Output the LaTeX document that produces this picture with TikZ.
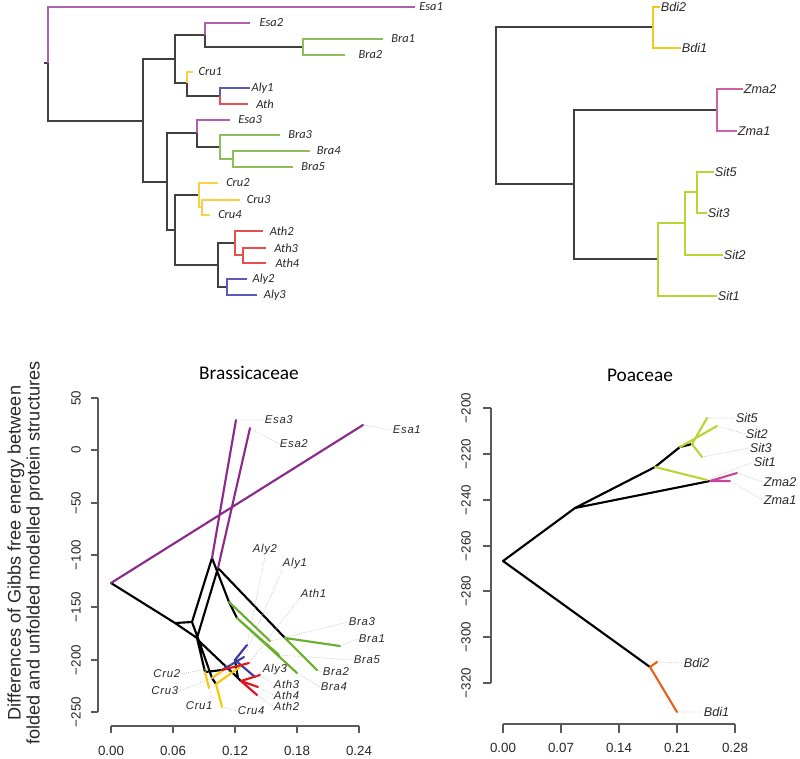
\documentclass[tikz,border=0pt]{standalone}
\usepackage{fontspec}
\setmainfont{Liberation Sans}
\newfontfamily\calfont{Carlito}
\newfontfamily\tipfont[LetterSpace=6]{Liberation Sans}
\usepackage{tikz}
\usetikzlibrary{calc}
\definecolor{ramagris}{RGB}{64,64,64}
\definecolor{moradoclaro}{RGB}{176,96,176}
\definecolor{verdeclaro}{RGB}{140,190,90}
\definecolor{amarilloclaro}{RGB}{245,210,70}
\definecolor{azulclaro}{RGB}{90,90,185}
\definecolor{rojoclaro}{RGB}{228,80,80}
\definecolor{oro}{RGB}{245,200,30}
\definecolor{rosa}{RGB}{208,96,160}
\definecolor{lima}{RGB}{185,212,52}
\definecolor{morado}{RGB}{139,42,139}
\definecolor{verde}{RGB}{106,175,42}
\definecolor{amarillo}{RGB}{250,200,0}
\definecolor{azul}{RGB}{60,60,168}
\definecolor{rojo}{RGB}{228,20,30}
\definecolor{naranja}{RGB}{232,96,28}
\definecolor{rosafuerte}{RGB}{200,68,156}
\definecolor{ejes}{RGB}{90,90,90}
\definecolor{texto}{RGB}{40,40,40}

\begin{document}
\begin{tikzpicture}[x=0.75pt, y=-0.75pt,
  rama/.style={draw=#1, line width=0.8pt},
  ramab/.style={draw=#1, line width=1.1pt},
  fen/.style={draw=#1, line width=1.6pt, line cap=round},
  guia/.style={draw=gray!55, densely dotted, line width=0.5pt},
  hoja/.style={font=\calfont\itshape\fontsize{9.3}{10}\selectfont, text=texto,
               anchor=west, inner sep=1pt},
  hojab/.style={font=\itshape\fontsize{9.5}{11}\selectfont, text=texto,
                anchor=west, inner sep=0.5pt},
  punta/.style={font=\tipfont\itshape\fontsize{8.5}{10}\selectfont, text=texto,
                anchor=west, inner sep=0.5pt},
  eje/.style={draw=ejes, line width=0.9pt},
  marca/.style={font=\fontsize{10}{12}\selectfont, text=texto},
  titulo/.style={font=\calfont\fontsize{14.5}{17}\selectfont, text=black},
  ejetit/.style={font=\fontsize{13.6}{15}\selectfont, text=texto, rotate=90}]
  \useasboundingbox (0,0) rectangle (800,758);

  % --- cladograma Brassicaceae ---
  \coordinate (r0) at (44,63);   \coordinate (r1) at (48,63);
  \coordinate (a1) at (143,121); \coordinate (a2) at (175,59);
  \coordinate (a3) at (205,35);  \coordinate (b12) at (303,47);
  \coordinate (a4) at (187,83);  \coordinate (a5) at (220,96);
  \coordinate (a6) at (167,182); \coordinate (a7) at (197,133);
  \coordinate (a8) at (220,147); \coordinate (a9) at (233,159);
  \coordinate (a10) at (175,230); \coordinate (a11) at (199,195);
  \coordinate (a12) at (202,207); \coordinate (a13) at (218,265);
  \coordinate (a14) at (235,243); \coordinate (a15) at (243,255);
  \coordinate (a16) at (227,287);
  \coordinate (tEsa1) at (415,7);  \coordinate (tEsa2) at (250,23);
  \coordinate (tBra1) at (383,39); \coordinate (tBra2) at (345,55);
  \coordinate (tCru1) at (193,72); \coordinate (tAly1) at (250,88);
  \coordinate (tAth) at (248,104); \coordinate (tEsa3) at (230,120);
  \coordinate (tBra3) at (280,135); \coordinate (tBra4) at (310,151);
  \coordinate (tBra5) at (293,167); \coordinate (tCru2) at (218,183);
  \coordinate (tCru3) at (240,200); \coordinate (tCru4) at (210,215);
  \coordinate (tAth2) at (263,231); \coordinate (tAth3) at (266,248);
  \coordinate (tAth4) at (266,263); \coordinate (tAly2) at (247,279);
  \coordinate (tAly3) at (257,295);
  \draw[rama=ramagris] (r0) -- (r1) (r1) |- (a1) (a1) |- (a2) (a2) |- (a3)
     (a3) |- (b12) (a2) |- (a4) (a4) |- (a5) (a1) |- (a6) (a6) |- (a7)
     (a7) |- (a8) (a6) |- (a10) (a10) |- (a11) (a10) |- (a13) (a13) |- (a14)
     (a13) |- (a16);
  \draw[rama=moradoclaro] (r1) |- (tEsa1) (a3) |- (tEsa2) (a7) |- (tEsa3);
  \draw[rama=verdeclaro] (b12) |- (tBra1) (b12) |- (tBra2) (a8) |- (tBra3)
     (a8) |- (a9) (a9) |- (tBra4) (a9) |- (tBra5);
  \draw[rama=amarilloclaro] (a4) |- (tCru1) (a11) |- (tCru2) (a11) |- (a12)
     (a12) |- (tCru3) (a12) |- (tCru4);
  \draw[rama=azulclaro] (a5) |- (tAly1) (a16) |- (tAly2) (a16) |- (tAly3);
  \draw[rama=rojoclaro] (a5) |- (tAth) (a14) |- (tAth2) (a14) |- (a15)
     (a15) |- (tAth3) (a15) |- (tAth4);
  \node[hoja] (cEsa1) at ([xshift=2]tEsa1) {Esa1};
  \node[hoja] (cEsa2) at ([xshift=6]tEsa2) {Esa2};
  \node[hoja] (cBra1) at ([xshift=5]tBra1) {Bra1};
  \node[hoja] (cBra2) at ([xshift=9]tBra2) {Bra2};
  \node[hoja] (cCru1) at ([xshift=3]tCru1) {Cru1};
  \node[hoja] (cAly1) at (tAly1) {Aly1};
  \node[hoja] (cAth) at ([xshift=5]tAth) {Ath};
  \node[hoja] (cEsa3) at ([xshift=5]tEsa3) {Esa3};
  \node[hoja] (cBra3) at ([xshift=5]tBra3) {Bra3};
  \node[hoja] (cBra4) at ([xshift=4]tBra4) {Bra4};
  \node[hoja] (cBra5) at ([xshift=5]tBra5) {Bra5};
  \node[hoja] (cCru2) at ([xshift=5]tCru2) {Cru2};
  \node[hoja] (cCru3) at ([xshift=4]tCru3) {Cru3};
  \node[hoja] (cCru4) at ([xshift=5]tCru4) {Cru4};
  \node[hoja] (cAth2) at ([xshift=4]tAth2) {Ath2};
  \node[hoja] (cAth3) at ([xshift=5]tAth3) {Ath3};
  \node[hoja] (cAth4) at ([xshift=6]tAth4) {Ath4};
  \node[hoja] (cAly2) at ([xshift=3]tAly2) {Aly2};
  \node[hoja] (cAly3) at ([xshift=4]tAly3) {Aly3};

  % --- cladograma Poaceae ---
  \coordinate (s0) at (496,105); \coordinate (s1) at (653,27);
  \coordinate (s2) at (574,184); \coordinate (s3) at (717,110);
  \coordinate (s4) at (658,259); \coordinate (s5) at (685,223);
  \coordinate (s6) at (697,192);
  \coordinate (tBdi2) at (660,7);  \coordinate (tBdi1) at (681,48);
  \coordinate (tZma2) at (743,89); \coordinate (tZma1) at (737,131);
  \coordinate (tSit5) at (714,172); \coordinate (tSit3) at (707,213);
  \coordinate (tSit2) at (723,255); \coordinate (tSit1) at (717,296);
  \draw[ramab=ramagris] (s0) |- (s1) (s0) |- (s2) (s2) |- (s3) (s2) |- (s4);
  \draw[ramab=oro] (s1) |- (tBdi2) (s1) |- (tBdi1);
  \draw[ramab=rosa] (s3) |- (tZma2) (s3) |- (tZma1);
  \draw[ramab=lima] (s4) |- (s5) (s5) |- (s6) (s6) |- (tSit5) (s6) |- (tSit3)
     (s5) |- (tSit2) (s4) |- (tSit1);
  \node[hojab] (cBdi2) at (tBdi2) {Bdi2};
  \node[hojab] (cBdi1) at (tBdi1) {Bdi1};
  \node[hojab] (cZma2) at (tZma2) {Zma2};
  \node[hojab] (cZma1) at (tZma1) {Zma1};
  \node[hojab] (cSit5) at (tSit5) {Sit5};
  \node[hojab] (cSit3) at (tSit3) {Sit3};
  \node[hojab] (cSit2) at (tSit2) {Sit2};
  \node[hojab] (cSit1) at (tSit1) {Sit1};

  % --- fenograma Brassicaceae ---
  \node[titulo] (titBra) at (249,373) {Brassicaceae};
  \node[ejetit] (ejeT1) at (16,553) {Differences of Gibbs free energy between};
  \node[ejetit] (ejeT2) at (35,553) {folded and unfolded modelled protein structures};
  \draw[eje] (98,398) -- (98,712) (111,726) -- (359,726);
  \foreach \t/\yy [count=\i] in {50/398,0/450,−50/503,−100/555,−150/607,−200/660,−250/712}
    {\draw[eje] (91,\yy) -- (98,\yy);
     \node[marca, rotate=90] (brY\i) at (76,\yy) {\t};}
  \foreach \t/\xx [count=\i] in {0.00/111,0.06/173,0.12/235,0.18/297,0.24/359}
    {\draw[eje] (\xx,726) -- (\xx,733);
     \node[marca] (brX\i) at (\xx,751) {\t};}
  \coordinate (q0) at (111,583);  \coordinate (q1) at (175,623);
  \coordinate (qB) at (192,622);  \coordinate (qA) at (197,638);
  \coordinate (qE3) at (212,558); \coordinate (qE2) at (218,568);
  \coordinate (qB3) at (229,602); \coordinate (qB45) at (237,618);
  \coordinate (qB12) at (285,638); \coordinate (qC) at (199,641);
  \coordinate (qH) at (205,672);  \coordinate (qI) at (222,670);
  \coordinate (qD) at (212,678);  \coordinate (qD2) at (216,684);
  \coordinate (qE) at (238,678);  \coordinate (qF) at (241,681);
  \coordinate (qG) at (235,660);
  \coordinate (fEsa1) at (363,425); \coordinate (fEsa3) at (236,420);
  \coordinate (fEsa2) at (250,428); \coordinate (fBra3) at (270,641);
  \coordinate (fBra4) at (297,673); \coordinate (fBra5) at (279,655);
  \coordinate (fBra1) at (340,646); \coordinate (fBra2) at (317,670);
  \coordinate (fCru1) at (209,688); \coordinate (fAly1) at (244,657);
  \coordinate (fAth1) at (249,663); \coordinate (fCru2) at (232,664);
  \coordinate (fCru3) at (240,667); \coordinate (fCru4) at (222,707);
  \coordinate (fAth3) at (260,675); \coordinate (fAth4) at (258,687);
  \coordinate (fAth2) at (257,695); \coordinate (fAly2) at (247,645);
  \coordinate (fAly3) at (255,677);
  \draw[fen=black] (q0) -- (q1) -- (qB) -- (qE3) (q1) -- (qA) -- (qE2)
     (qE3) -- (qB3) -- (qB45) (qE2) -- (qB12) (qB) -- (qC) (qA) -- (qH) -- (qI)
     (qC) -- (qD) -- (qD2) (qC) -- (qE) -- (qF) (qE) -- (qG);
  \draw[fen=morado] (q0) -- (fEsa1) (qE3) -- (fEsa3) (qE2) -- (fEsa2);
  \draw[fen=verde] (qB3) -- (fBra3) (qB45) -- (fBra4) (qB45) -- (fBra5)
     (qB12) -- (fBra1) (qB12) -- (fBra2);
  \draw[fen=amarillo] (qH) -- (fCru1) (qD) -- (fCru2) (qD2) -- (fCru3) (qD2) -- (fCru4);
  \draw[fen=azul] (qI) -- (fAly1) (qG) -- (fAly2) (qG) -- (fAly3);
  \draw[fen=rojo] (qI) -- (fAth1) (qF) -- (fAth3) (qF) -- (fAth4) (qF) -- (fAth2);
  \node[punta] (pEsa1) at (392,430) {Esa1};
  \node[punta] (pEsa3) at (264,420) {Esa3};
  \node[punta] (pEsa2) at (279,444) {Esa2};
  \node[punta] (pAly2) at (252,550) {Aly2};
  \node[punta] (pAly1) at (282,564) {Aly1};
  \node[punta] (pAth1) at (300,593) {Ath1};
  \node[punta] (pBra3) at (348,622) {Bra3};
  \node[punta] (pBra1) at (358,639) {Bra1};
  \node[punta] (pBra5) at (353,660) {Bra5};
  \node[punta] (pBra2) at (322,672) {Bra2};
  \node[punta] (pBra4) at (320,687) {Bra4};
  \node[punta] (pAly3) at (262,670) {Aly3};
  \node[punta] (pAth3) at (273,684) {Ath3};
  \node[punta] (pAth4) at (273,695) {Ath4};
  \node[punta] (pAth2) at (273,706) {Ath2};
  \node[punta] (pCru4) at (237,711) {Cru4};
  \node[punta] (pCru1) at (185,706) {Cru1};
  \node[punta, anchor=east] (pCru2) at (181,674) {Cru2};
  \node[punta, anchor=east] (pCru3) at (179,691) {Cru3};
  \draw[guia] (fEsa1) -- (pEsa1.west) (fEsa3) -- (pEsa3.west) (fEsa2) -- (pEsa2.west)
     (fAly2) -- (pAly2.south) (fAly1) -- (pAly1.south west) (fAth1) -- (pAth1.south west)
     (fBra3) -- (pBra3.west) (fBra1) -- (pBra1.west) (fBra5) -- (pBra5.west)
     (fBra2) -- (pBra2.west) (fBra4) -- (pBra4.west) (fAly3) -- (pAly3.west)
     (fAth3) -- (pAth3.west) (fAth4) -- (pAth4.west) (fAth2) -- (pAth2.west)
     (fCru4) -- (pCru4.west) (fCru1) -- (pCru1.north east) (fCru2) -- (pCru2.east)
     (fCru3) -- (pCru3.east);

  % --- fenograma Poaceae ---
  \node[titulo] (titPoa) at (640,375) {Poaceae};
  \draw[eje] (491,408) -- (491,683) (503,724) -- (735,724);
  \foreach \t/\yy [count=\i] in {−200/408,−220/454,−240/500,−260/546,−280/591,−300/637,−320/683}
    {\draw[eje] (483,\yy) -- (491,\yy);
     \node[marca, rotate=90] (poY\i) at (466,\yy) {\t};}
  \foreach \t/\xx [count=\i] in {0.00/503,0.07/561,0.14/619,0.21/677,0.28/735}
    {\draw[eje] (\xx,724) -- (\xx,733);
     \node[marca] (poX\i) at (\xx,748) {\t};}
  \coordinate (p0) at (503,561); \coordinate (pB) at (650,667);
  \coordinate (p1) at (575,508); \coordinate (p2) at (655,467);
  \coordinate (pQ) at (680,447); \coordinate (pR) at (692,444);
  \coordinate (pZ) at (710,481);
  \coordinate (gBdi2) at (657,662); \coordinate (gBdi1) at (677,712);
  \coordinate (gSit1) at (707,480); \coordinate (gSit2) at (717,426);
  \coordinate (gSit5) at (707,418); \coordinate (gSit3) at (702,457);
  \coordinate (gZma2) at (737,473); \coordinate (gZma1) at (730,481);
  \draw[fen=black] (p0) -- (pB) (p0) -- (p1) -- (p2) -- (pQ) -- (pR) (p1) -- (pZ);
  \draw[fen=naranja] (pB) -- (gBdi2) (pB) -- (gBdi1);
  \draw[fen=lima] (p2) -- (gSit1) (pQ) -- (gSit2) (pR) -- (gSit5) (pR) -- (gSit3);
  \draw[fen=rosafuerte] (pZ) -- (gZma2) (pZ) -- (gZma1);
  \node[hojab] (kSit5) at (735,418) {Sit5};
  \node[hojab] (kSit2) at (745,434) {Sit2};
  \node[hojab] (kSit3) at (749,448) {Sit3};
  \node[hojab] (kSit1) at (753,462) {Sit1};
  \node[hojab] (kZma2) at (763,482) {Zma2};
  \node[hojab] (kZma1) at (763,500) {Zma1};
  \node[hojab] (kBdi2) at (683,663) {Bdi2};
  \node[hojab] (kBdi1) at (703,712) {Bdi1};
  \draw[guia] (gSit5) -- (kSit5.west) (gSit2) -- (kSit2.west) (gSit3) -- (kSit3.west)
     (gSit1) -- (kSit1.west) (gZma2) -- (kZma2.west) (gZma1) -- (kZma1.west)
     (gBdi2) -- (kBdi2.west) (gBdi1) -- (kBdi1.west);
\end{tikzpicture}
\end{document}
